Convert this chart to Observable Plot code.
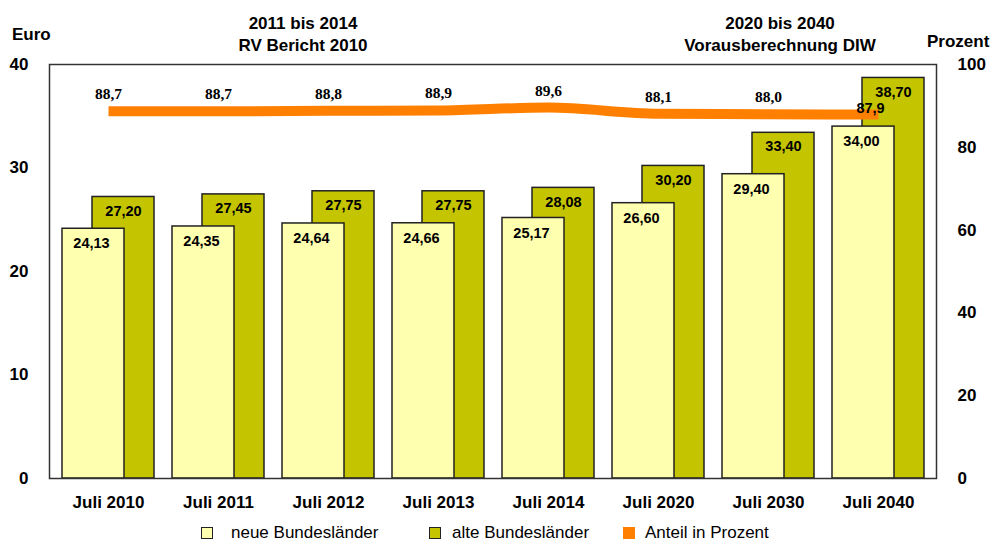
<!DOCTYPE html>
<html>
<head>
<meta charset="utf-8">
<script src="https://cdn.jsdelivr.net/npm/d3@7"></script>
<script src="https://cdn.jsdelivr.net/npm/@observablehq/plot@0.6"></script>
<style>
  body { margin: 0; background: #fff; }
  #wrap { position: relative; width: 992px; height: 541px; font-family: "Liberation Sans", Arial, sans-serif; color: #000; }
  .lbl { position: absolute; font-weight: bold; font-size: 17px; line-height: 20px; white-space: nowrap; }
  .head { position: absolute; font-weight: bold; font-size: 17px; line-height: 22px; text-align: center; transform: translateX(-50%); white-space: nowrap; }
  .sq { position: absolute; width: 12px; height: 12px; box-sizing: border-box; }
  .lt { position: absolute; font-size: 17px; line-height: 20px; white-space: nowrap; }
</style>
</head>
<body>
<div id="wrap"></div>
<script>
const categories = ["Juli 2010", "Juli 2011", "Juli 2012", "Juli 2013", "Juli 2014", "Juli 2020", "Juli 2030", "Juli 2040"];
const neue = [24.13, 24.35, 24.64, 24.66, 25.17, 26.60, 29.40, 34.00];
const alte = [27.20, 27.45, 27.75, 27.75, 28.08, 30.20, 33.40, 38.70];
const anteil = [88.7, 88.7, 88.8, 88.9, 89.6, 88.1, 88.0, 87.9];
const leftTicks = [0, 10, 20, 30, 40];
const rightTicks = [0, 20, 40, 60, 80, 100];
const seriesNames = ["neue Bundesländer", "alte Bundesländer", "Anteil in Prozent"];
const seriesColors = ["#FFFFB0", "#C4C400", "#FF8000"];
const headingLeft = ["2011 bis 2014", "RV Bericht 2010"];
const headingRight = ["2020 bis 2040", "Vorausberechnung DIW"];
const unitLeft = "Euro";
const unitRight = "Prozent";

const toScale = 40 / 100; // Prozent -> Euro axis
const fmt2 = v => v.toFixed(2).replace(".", ",");
const fmt1 = v => v.toFixed(1).replace(".", ",");

const rows = categories.map((c, i) => ({cat: c, neue: neue[i], alte: alte[i], anteil: anteil[i], pY: anteil[i] * toScale}));
const lineRows = rows.slice(0, rows.length - 1);
const lastRow = rows.slice(rows.length - 1);

const chart = Plot.plot({
  width: 992,
  height: 520,
  marginLeft: 49,
  marginRight: 56,
  marginTop: 64,
  marginBottom: 42,
  style: {fontSize: "17px", fontWeight: "bold", color: "#000", background: "transparent"},
  x: {type: "band", domain: categories, paddingInner: 0.44, paddingOuter: 0.22},
  y: {domain: [0, 40]},
  marks: [
    Plot.barY(rows, {x: "cat", y: "alte", dx: 15, fill: seriesColors[1], stroke: "#222", strokeWidth: 1.5}),
    Plot.barY(rows, {x: "cat", y: "neue", dx: -15, fill: seriesColors[0], stroke: "#222", strokeWidth: 1.5}),
    Plot.text(rows, {x: "cat", y: "alte", text: d => fmt2(d.alte), dx: 15, dy: 14, fontSize: 14.5, fontWeight: "bold", fontFamily: "Liberation Sans", fill: "#000"}),
    Plot.text(rows, {x: "cat", y: "neue", text: d => fmt2(d.neue), dx: -17, dy: 15, fontSize: 14.5, fontWeight: "bold", fontFamily: "Liberation Sans", fill: "#000"}),
    Plot.line(rows, {x: "cat", y: "pY", stroke: seriesColors[2], strokeWidth: 10, curve: "monotone-x", strokeLinecap: "butt"}),
    Plot.text(lineRows, {x: "cat", y: "pY", text: d => fmt1(d.anteil), dy: -17, fontSize: 15.5, fontWeight: "bold", fontFamily: "Liberation Serif", fill: "#000"}),
    Plot.text(lastRow, {x: "cat", y: "pY", text: d => fmt1(d.anteil), dx: -8, dy: -6, fontSize: 14.5, fontWeight: "bold", fontFamily: "Liberation Sans", fill: "#000"}),
    Plot.frame({stroke: "#333", strokeWidth: 1.5}),
    Plot.axisY(leftTicks, {anchor: "left", tickSize: 0, tickPadding: 21, label: null, fontFamily: "Liberation Sans"}),
    Plot.axisY(rightTicks.map(v => v * toScale), {anchor: "right", tickSize: 0, tickPadding: 21, label: null, fontFamily: "Liberation Sans", tickFormat: d => String(Math.round(d / toScale)), textAnchor: "start"}),
    Plot.axisX({tickSize: 0, tickPadding: 17, label: null, fontFamily: "Liberation Sans"})
  ]
});

// make sure the percentage labels use the serif face
const textGroups = chart.querySelectorAll('g[aria-label="text"]');
if (textGroups.length >= 3) {
  textGroups[2].style.fontFamily = '"Liberation Serif", "Times New Roman", serif';
  textGroups[2].querySelectorAll("text").forEach(t => t.style.fontFamily = '"Liberation Serif", "Times New Roman", serif');
}

const wrap = document.getElementById("wrap");
chart.style.position = "absolute";
chart.style.left = "0px";
chart.style.top = "0px";
wrap.appendChild(chart);

function addDiv(cls, html, left, top) {
  const d = document.createElement("div");
  d.className = cls;
  d.innerHTML = html;
  d.style.left = left + "px";
  d.style.top = top + "px";
  wrap.appendChild(d);
  return d;
}
addDiv("lbl", unitLeft, 12, 25);
addDiv("lbl", unitRight, 927, 32);
addDiv("head", headingLeft.join("<br>"), 303, 13);
addDiv("head", headingRight.join("<br>"), 780, 13);

const legendPos = [[201, 231], [429, 452], [623, 645]];
seriesNames.forEach((name, i) => {
  const sq = addDiv("sq", "", legendPos[i][0], 527);
  sq.style.background = seriesColors[i];
  if (i < 2) sq.style.border = "1px solid #222";
  addDiv("lt", name, legendPos[i][1], 523);
});
</script>
</body>
</html>
